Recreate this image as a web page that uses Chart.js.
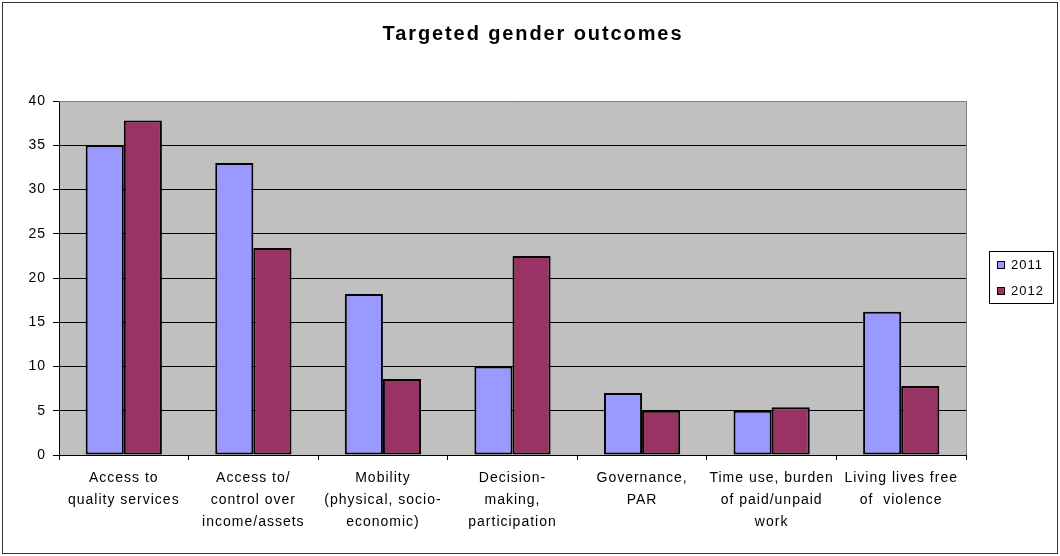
<!DOCTYPE html>
<html>
<head>
<meta charset="utf-8">
<script src="https://cdn.jsdelivr.net/npm/chart.js@4/dist/chart.umd.min.js"></script>
<style>
  html, body { margin: 0; padding: 0; background: #fff; }
  canvas { display: block; }
</style>
</head>
<body>
<canvas id="gender-chart" width="1060" height="556"></canvas>
<script>
// ── Data ──────────────────────────────────────────────────
const chartTitle = 'Targeted gender outcomes';
const outcomes = [
  ['Access to', 'quality services'],
  ['Access to/', 'control over', 'income/assets'],
  ['Mobility', '(physical, socio-', 'economic)'],
  ['Decision-', 'making,', 'participation'],
  ['Governance,', 'PAR'],
  ['Time use, burden', 'of paid/unpaid', 'work'],
  ['Living lives free', 'of  violence']
];
const seriesNames = ['2011', '2012'];
const values2011  = [35, 33, 18.2, 10, 7, 5, 16.2];
const values2012  = [37.8, 23.4, 8.6, 22.5, 5, 5.4, 7.8];
const yTicks      = [0, 5, 10, 15, 20, 25, 30, 35, 40];

const colors   = ['#9999FF', '#993366'];
const FONT     = '"Liberation Sans", Arial, sans-serif';

// ── Frame, plot fill, title and boxed legend ──────────────
const excelFrame = {
  id: 'excelFrame',
  beforeDraw(chart) {
    const { ctx, chartArea: a } = chart;
    ctx.save();
    ctx.fillStyle = '#fff';
    ctx.fillRect(0, 0, chart.width, chart.height);
    ctx.fillStyle = '#C0C0C0';
    ctx.fillRect(a.left, a.top, a.right - a.left, a.bottom - a.top);
    ctx.restore();
    ctx.letterSpacing = '1px';
  },
  beforeDatasetsDraw(chart) {
    const { ctx, chartArea: a } = chart;
    ctx.save();
    ctx.strokeStyle = '#808080';
    ctx.lineWidth = 1;
    ctx.beginPath();
    ctx.moveTo(a.left, a.top + 0.5);
    ctx.lineTo(a.right + 0.5, a.top + 0.5);
    ctx.lineTo(a.right + 0.5, a.bottom);
    ctx.stroke();
    ctx.restore();
  },
  afterDraw(chart) {
    const ctx = chart.ctx;
    ctx.save();

    // outer border
    ctx.strokeStyle = '#333';
    ctx.lineWidth = 1;
    ctx.strokeRect(2.5, 2.5, chart.width - 5, chart.height - 5);

    // title
    ctx.fillStyle = '#000';
    ctx.font = 'bold 20px ' + FONT;
    ctx.letterSpacing = '1.9px';
    ctx.textAlign = 'center';
    ctx.textBaseline = 'middle';
    ctx.fillText(chartTitle, 533, 34);

    // legend
    ctx.strokeStyle = '#000';
    ctx.fillStyle = '#fff';
    ctx.fillRect(989.5, 251.5, 64, 52);
    ctx.strokeRect(989.5, 251.5, 64, 52);
    ctx.font = '13px ' + FONT;
    ctx.letterSpacing = '1px';
    ctx.textAlign = 'left';
    seriesNames.forEach((name, i) => {
      const y = 265 + i * 26;
      ctx.fillStyle = colors[i];
      ctx.fillRect(997.5, y - 3.5, 7, 7);
      ctx.strokeRect(997.5, y - 3.5, 7, 7);
      ctx.fillStyle = '#000';
      ctx.fillText(name, 1011, y + 0.5);
    });
    ctx.restore();
  }
};

// ── Chart ─────────────────────────────────────────────────
const ctx = document.getElementById('gender-chart').getContext('2d');
new Chart(ctx, {
  type: 'bar',
  data: {
    labels: outcomes,
    datasets: [
      { label: seriesNames[0], data: values2011 },
      { label: seriesNames[1], data: values2012 }
    ].map((ds, i) => ({
      ...ds,
      backgroundColor: colors[i],
      borderColor: '#000',
      borderWidth: 2,
      borderSkipped: false,
      categoryPercentage: 1 / 1.7,
      barPercentage: 1
    }))
  },
  options: {
    responsive: false,
    animation: false,
    devicePixelRatio: 1,
    layout: { padding: { top: 101, right: 94, bottom: 0, left: 0 } },
    plugins: {
      legend: { display: false },
      title: { display: false },
      tooltip: { enabled: false }
    },
    scales: {
      x: {
        afterFit: s => { s.height = 101; },
        grid: {
          offset: true,
          drawOnChartArea: false,
          color: '#000',
          tickLength: 5
        },
        border: { color: '#000', width: 1 },
        ticks: {
          color: '#000',
          padding: 7,
          maxRotation: 0,
          autoSkip: false,
          font: { family: FONT, size: 14, lineHeight: 22 / 14 }
        }
      },
      y: {
        min: yTicks[0],
        max: yTicks[yTicks.length - 1],
        afterFit: s => { s.width = 59; },
        afterBuildTicks: s => { s.ticks = yTicks.map(v => ({ value: v })); },
        grid: { color: '#000', lineWidth: 1, tickLength: 6 },
        border: { color: '#000', width: 1 },
        ticks: {
          color: '#000',
          padding: 7,
          font: { family: FONT, size: 14 }
        }
      }
    }
  },
  plugins: [excelFrame]
});
</script>
</body>
</html>
